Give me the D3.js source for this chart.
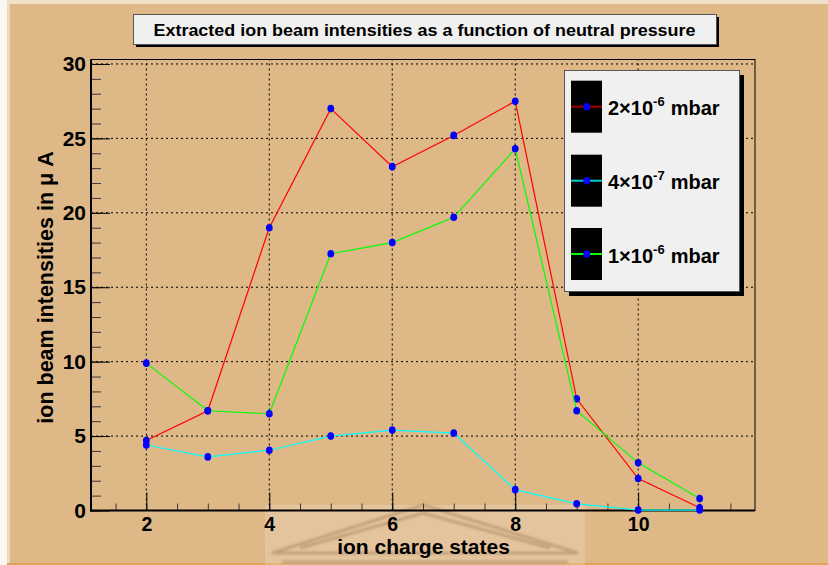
<!DOCTYPE html>
<html><head><meta charset="utf-8">
<script src="https://cdn.jsdelivr.net/npm/d3@7/dist/d3.min.js"></script>
<style>
html,body{margin:0;padding:0;background:#fff;}
text{font-family:"Liberation Sans",Arial,Helvetica,sans-serif;font-weight:bold;}
</style></head>
<body><svg id="c" width="828" height="565"></svg>
<script>
// ---- data ----
const chargeStates = [2, 3, 4, 5, 6, 7, 8, 9, 10, 11];
const seriesNames = ["2e-6", "4e-7", "1e-6"];
const p2e6 = [4.7, 6.7, 19.0, 27.0, 23.1, 25.2, 27.5, 7.5, 2.15, 0.18];
const p4e7 = [4.4, 3.6, 4.05, 5.0, 5.4, 5.2, 1.4, 0.45, 0.03, 0.03];
const p1e6 = [9.9, 6.7, 6.5, 17.25, 18.0, 19.7, 24.3, 6.7, 3.2, 0.8];
const legendBase = ["2\u00d710", "4\u00d710", "1\u00d710"];
const legendExp = ["-6", "-7", "-6"];
const legendUnit = "mbar";
const xMajorTicks = [2, 4, 6, 8, 10];
const yMajorTicks = [0, 5, 10, 15, 20, 25, 30];
const titleText = "Extracted ion beam intensities as a function of neutral pressure";
const xTitle = "ion charge states";
const yTitle = "ion beam intensities in \u03bc A";

const seriesColors = ["#ff0000", "#00ffff", "#00ff00"];
const legendLineColors = ["#a00000", "#00cccc", "#00ff00"];
const seriesData = [p2e6, p4e7, p1e6];

const svg = d3.select("#c");
const W = 828, H = 565;

// ---- canvas background ----
svg.append("rect").attr("width", W).attr("height", H).attr("fill", "#deb887");
svg.append("rect").attr("x", 0).attr("y", 0).attr("width", W).attr("height", 4).attr("fill", "#f0e0ca");
svg.append("rect").attr("x", 0).attr("y", 0).attr("width", 7).attr("height", H).attr("fill", "#fbf7f1");
svg.append("rect").attr("x", 7).attr("y", 4).attr("width", 3).attr("height", H - 4).attr("fill", "#eed8b9");
svg.append("rect").attr("x", 7).attr("y", 563).attr("width", W - 7).attr("height", 2).attr("fill", "#e0a458");

// ---- watermark ----
const defs = svg.append("defs");
defs.append("filter").attr("id", "blur").append("feGaussianBlur").attr("stdDeviation", 1.2);
const wm = svg.append("g");
wm.append("rect").attr("x", 265).attr("y", 505).attr("width", 320).attr("height", 60)
  .attr("fill", "#ffffff").attr("opacity", 0.18);
const wmLines = wm.append("g").attr("filter", "url(#blur)").attr("fill", "none")
  .attr("stroke", "#8f6e4e").attr("stroke-opacity", 0.4).attr("stroke-width", 3);
wmLines.append("path").attr("d", "M272,553 L423,505 L578,553 Z");
wmLines.append("path").attr("d", "M300,548 L423,513 L550,548");
wmLines.append("path").attr("d", "M282,562 L568,562");

// ---- scales ----
const x = d3.scaleLinear().domain([1.1, 11.9]).range([91, 755]);
const y = d3.scaleLinear().domain([0, 30.3]).range([510.5, 59.5]);

const plot = svg.append("g");

// grid
plot.append("g").selectAll("line").data(xMajorTicks).join("line")
  .attr("x1", d => x(d)).attr("x2", d => x(d)).attr("y1", y(0)).attr("y2", y(30.3))
  .attr("stroke", "#000").attr("stroke-width", 1).attr("stroke-dasharray", "2,3");
plot.append("g").selectAll("line").data(yMajorTicks.filter(d => d > 0)).join("line")
  .attr("y1", d => y(d)).attr("y2", d => y(d)).attr("x1", x(1.1)).attr("x2", x(11.9))
  .attr("stroke", "#000").attr("stroke-width", 1).attr("stroke-dasharray", "2,3");

// frame
plot.append("rect").attr("x", x(1.1)).attr("y", y(30.3)).attr("width", x(11.9) - x(1.1))
  .attr("height", y(0) - y(30.3)).attr("fill", "none").attr("stroke", "#000").attr("stroke-width", 1);

// axes
const yMinor = d3.axisLeft(y).tickValues(d3.range(0, 31, 1)).tickSize(-10).tickFormat("");
const yMajor = d3.axisLeft(y).tickValues(yMajorTicks).tickSize(-19).tickPadding(5).tickFormat(d3.format("d"));
const xMinor = d3.axisBottom(x).tickValues(d3.range(1.5, 11.9, 0.5)).tickSize(-7).tickFormat("");
const xMajor = d3.axisBottom(x).tickValues(xMajorTicks).tickSize(-18).tickPadding(7).tickFormat(d3.format("d"));

function styleAxis(g, col) {
  g.select(".domain").remove();
  g.selectAll(".tick line").attr("stroke", col).attr("stroke-width", 1);
}
svg.append("g").attr("transform", `translate(${x(1.1)},0)`).call(yMinor).call(g => styleAxis(g, "#3a3a3a"));
svg.append("g").attr("transform", `translate(${x(1.1)},0)`).call(yMajor).call(g => styleAxis(g, "#000"))
  .call(g => g.selectAll("text").attr("font-size", 21).attr("fill", "#000")
    .attr("font-family", "'Liberation Sans',Arial,sans-serif").attr("font-weight", "bold"));
svg.append("g").attr("transform", `translate(0,${y(0)})`).call(xMinor).call(g => styleAxis(g, "#3a3a3a"));
svg.append("g").attr("transform", `translate(0,${y(0)})`).call(xMajor).call(g => styleAxis(g, "#000"))
  .call(g => g.selectAll("text").attr("font-size", 19.5).attr("fill", "#000")
    .attr("font-family", "'Liberation Sans',Arial,sans-serif").attr("font-weight", "bold"));

// thick axis lines
svg.append("line").attr("x1", x(1.1)).attr("x2", x(1.1)).attr("y1", y(30.3)).attr("y2", y(0) + 1)
  .attr("stroke", "#000").attr("stroke-width", 2);
svg.append("line").attr("x1", x(1.1) - 1).attr("x2", x(11.9)).attr("y1", y(0)).attr("y2", y(0))
  .attr("stroke", "#000").attr("stroke-width", 2);

// series
const line = d3.line().x((d, i) => x(chargeStates[i])).y(d => y(d));
seriesData.forEach((vals, si) => {
  const g = svg.append("g");
  g.append("path").attr("d", line(vals)).attr("fill", "none")
    .attr("stroke", seriesColors[si]).attr("stroke-width", 1.2);
  g.selectAll("ellipse").data(vals).join("ellipse")
    .attr("cx", (d, i) => x(chargeStates[i])).attr("cy", d => y(d))
    .attr("rx", 3.4).attr("ry", 3.8).attr("fill", "#0000ff");
});

// title box
svg.append("rect").attr("x", 136).attr("y", 17).attr("width", 583).attr("height", 30).attr("fill", "#000");
svg.append("rect").attr("x", 133.5).attr("y", 14.5).attr("width", 583).attr("height", 30)
  .attr("fill", "#f0f0f0").attr("stroke", "#555").attr("stroke-width", 1);
svg.append("text").attr("x", 424.5).attr("y", 36).attr("text-anchor", "middle")
  .attr("font-size", 17).attr("textLength", 542).attr("lengthAdjust", "spacingAndGlyphs")
  .attr("fill", "#000").text(titleText);

// axis titles
svg.append("text").attr("x", 423.5).attr("y", 554).attr("text-anchor", "middle")
  .attr("font-size", 21).attr("fill", "#000").text(xTitle);
svg.append("text").attr("transform", "translate(53,287.5) rotate(-90)").attr("text-anchor", "middle")
  .attr("font-size", 21.5).attr("fill", "#000").text(yTitle);

// legend
const lg = svg.append("g");
lg.append("rect").attr("x", 569).attr("y", 75).attr("width", 175).attr("height", 221).attr("fill", "#000");
lg.append("rect").attr("x", 564.5).attr("y", 70.5).attr("width", 175).attr("height", 221)
  .attr("fill", "#f0f0f0").attr("stroke", "#555").attr("stroke-width", 1);
const entryCenters = [106.7, 180.7, 254];
seriesNames.forEach((nm, i) => {
  const cy = entryCenters[i];
  lg.append("rect").attr("x", 571).attr("y", cy - 26).attr("width", 31).attr("height", 52).attr("fill", "#000");
  lg.append("line").attr("x1", 571).attr("x2", 602).attr("y1", cy).attr("y2", cy)
    .attr("stroke", legendLineColors[i]).attr("stroke-width", 2);
  lg.append("ellipse").attr("cx", 586.7).attr("cy", cy).attr("rx", 3.4).attr("ry", 3.8).attr("fill", "#0000ff");
  const t = lg.append("text").attr("x", 608).attr("y", cy + 8.5).attr("font-size", 20).attr("fill", "#000");
  t.append("tspan").text(legendBase[i]);
  t.append("tspan").attr("font-size", 13).attr("dy", -9).text(legendExp[i]);
  t.append("tspan").attr("dy", 9).attr("dx", 6).text(legendUnit);
});
</script></body></html>
